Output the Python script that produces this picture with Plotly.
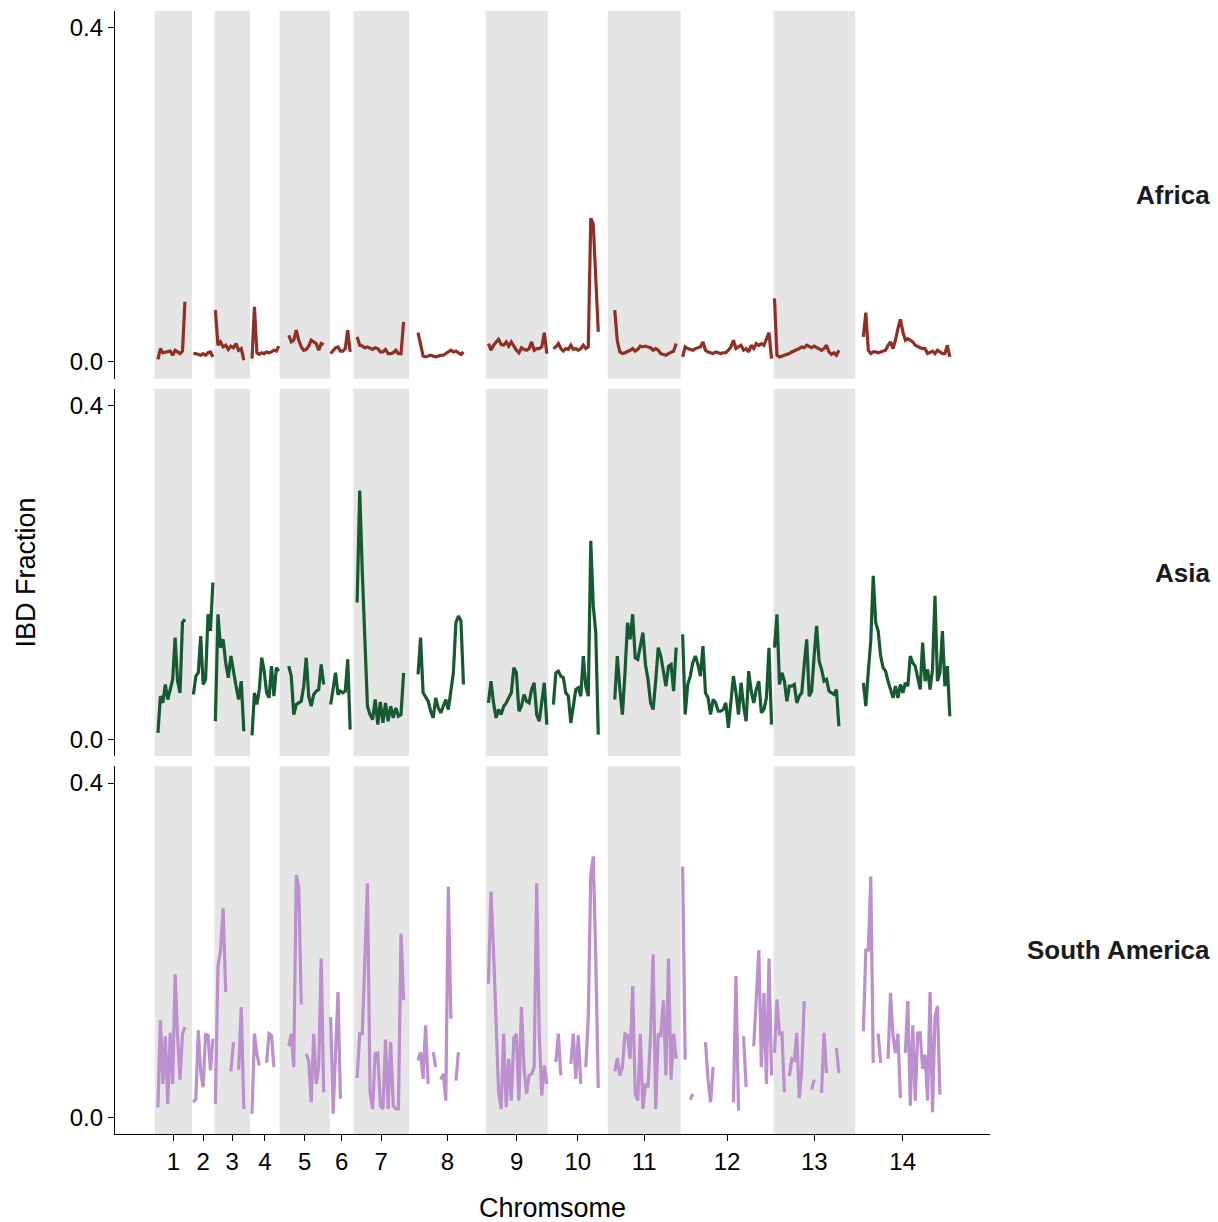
import numpy as np
import plotly.graph_objects as go
from plotly.subplots import make_subplots

# ---------------- data ----------------
CHROMOSOMES = [str(i) for i in range(1, 15)]
# chromosome lengths (Mb, cumulative genome axis)
CHROM_LENGTH_MB = [1.092, 0.651, 1.042, 0.864, 1.471, 0.689, 1.626,
                   2.239, 1.819, 1.752, 2.131, 2.715, 2.385, 2.782]
# first / last window position inside each chromosome (Mb)
WINDOW_FIRST_MB = [0.093, 0.038, 0.029, 0.058, 0.269, 0.023, 0.108,
                   0.263, 0.082, 0.161, 0.204, 0.058, 0.029, 0.242]
WINDOW_LAST_MB = [0.882, 0.607, 0.861, 0.841, 1.290, 0.593, 1.466,
                  1.591, 1.790, 1.474, 2.000, 2.657, 1.912, 2.770]

POPULATIONS = ["Africa", "Asia", "South America"]
LINE_COLORS = ["#912F25", "#165A32", "#BC8FCF"]

AFRICA = [
    [0.003, 0.016, 0.011, 0.012, 0.012, 0.013, 0.008, 0.014, 0.012, 0.010, 0.013, 0.072],
    [0.010, 0.010, 0.009, 0.008, 0.010, 0.008, 0.011, 0.012, 0.006],
    [0.062, 0.020, 0.024, 0.018, 0.020, 0.015, 0.019, 0.017, 0.022, 0.014, 0.016, 0.002],
    [0.004, 0.066, 0.011, 0.009, 0.011, 0.010, 0.012, 0.011, 0.012, 0.014, 0.013, 0.019],
    [0.032, 0.024, 0.026, 0.038, 0.026, 0.018, 0.014, 0.015, 0.019, 0.026, 0.024, 0.022,
     0.014, 0.022, 0.021],
    [0.010, 0.014, 0.017, 0.018, 0.013, 0.013, 0.016, 0.038, 0.012],
    [0.030, 0.020, 0.019, 0.017, 0.018, 0.016, 0.015, 0.017, 0.016, 0.012, 0.012, 0.015,
     0.010, 0.010, 0.011, 0.014, 0.010, 0.010, 0.048],
    [0.035, 0.020, 0.007, 0.006, 0.007, 0.008, 0.007, 0.006, 0.007, 0.008, 0.008, 0.010,
     0.011, 0.014, 0.012, 0.013, 0.011, 0.009, 0.012],
    [0.022, 0.014, 0.020, 0.024, 0.027, 0.021, 0.020, 0.024, 0.019, 0.024, 0.018, 0.014,
     0.011, 0.017, 0.015, 0.014, 0.016, 0.024, 0.014, 0.016, 0.016, 0.018, 0.035, 0.010],
    [0.016, 0.018, 0.022, 0.016, 0.013, 0.016, 0.015, 0.020, 0.015, 0.016, 0.014, 0.016,
     0.020, 0.016, 0.018, 0.172, 0.165, 0.102, 0.036],
    [0.062, 0.025, 0.012, 0.010, 0.011, 0.012, 0.014, 0.016, 0.013, 0.015, 0.019, 0.018,
     0.019, 0.018, 0.017, 0.014, 0.016, 0.014, 0.010, 0.009, 0.008, 0.010, 0.011, 0.013,
     0.022],
    [0.006, 0.018, 0.016, 0.015, 0.014, 0.016, 0.017, 0.018, 0.024, 0.014, 0.012, 0.011,
     0.010, 0.012, 0.011, 0.010, 0.011, 0.011, 0.014, 0.018, 0.026, 0.016, 0.018, 0.020,
     0.014, 0.016, 0.012, 0.020, 0.016, 0.022, 0.020, 0.022, 0.020, 0.028, 0.035, 0.004],
    [0.076, 0.008, 0.006, 0.007, 0.008, 0.008, 0.010, 0.012, 0.013, 0.015, 0.016, 0.018,
     0.017, 0.020, 0.018, 0.017, 0.019, 0.017, 0.015, 0.014, 0.016, 0.020, 0.012, 0.009,
     0.011, 0.008, 0.014],
    [0.030, 0.059, 0.014, 0.010, 0.012, 0.012, 0.011, 0.012, 0.014, 0.014, 0.020, 0.024,
     0.016, 0.026, 0.040, 0.051, 0.036, 0.026, 0.028, 0.026, 0.024, 0.020, 0.018, 0.017,
     0.016, 0.016, 0.010, 0.012, 0.013, 0.010, 0.014, 0.012, 0.010, 0.010, 0.020, 0.006],
]

ASIA = [
    [0.008, 0.052, 0.044, 0.066, 0.048, 0.062, 0.072, 0.122, 0.070, 0.056, 0.140, 0.144],
    [0.054, 0.076, 0.080, 0.124, 0.066, 0.072, 0.150, 0.130, 0.188],
    [0.022, 0.150, 0.110, 0.120, 0.092, 0.074, 0.100, 0.080, 0.064, 0.048, 0.070, 0.010],
    [0.005, 0.056, 0.042, 0.060, 0.098, 0.082, 0.056, 0.050, 0.088, 0.052, 0.086, 0.082],
    [0.088, 0.076, 0.030, 0.042, 0.044, 0.046, 0.064, 0.098, 0.052, 0.040, 0.054, 0.058,
     0.060, 0.090, 0.066],
    [0.042, 0.060, 0.080, 0.054, 0.058, 0.056, 0.058, 0.096, 0.012],
    [0.164, 0.298, 0.200, 0.126, 0.040, 0.030, 0.024, 0.048, 0.018, 0.045, 0.020, 0.044,
     0.022, 0.040, 0.026, 0.038, 0.028, 0.030, 0.080],
    [0.078, 0.122, 0.056, 0.050, 0.046, 0.034, 0.026, 0.050, 0.038, 0.032, 0.040, 0.048,
     0.036, 0.058, 0.080, 0.140, 0.148, 0.142, 0.066],
    [0.044, 0.070, 0.044, 0.026, 0.036, 0.030, 0.040, 0.044, 0.050, 0.056, 0.086, 0.080,
     0.034, 0.040, 0.054, 0.046, 0.044, 0.060, 0.068, 0.030, 0.022, 0.044, 0.068, 0.018],
    [0.042, 0.080, 0.082, 0.076, 0.074, 0.056, 0.052, 0.020, 0.040, 0.060, 0.062, 0.052,
     0.100, 0.064, 0.052, 0.238, 0.160, 0.128, 0.006],
    [0.048, 0.100, 0.060, 0.030, 0.080, 0.140, 0.120, 0.150, 0.098, 0.096, 0.112, 0.128,
     0.090, 0.072, 0.044, 0.036, 0.070, 0.110, 0.100, 0.080, 0.064, 0.088, 0.090, 0.058,
     0.110],
    [0.126, 0.030, 0.066, 0.076, 0.092, 0.100, 0.090, 0.076, 0.112, 0.056, 0.050, 0.030,
     0.048, 0.044, 0.034, 0.034, 0.036, 0.044, 0.014, 0.050, 0.076, 0.056, 0.030, 0.068,
     0.040, 0.022, 0.082, 0.058, 0.044, 0.060, 0.070, 0.032, 0.036, 0.050, 0.110, 0.018],
    [0.110, 0.150, 0.066, 0.080, 0.070, 0.046, 0.064, 0.064, 0.066, 0.044, 0.052, 0.056,
     0.090, 0.120, 0.052, 0.058, 0.100, 0.136, 0.094, 0.084, 0.070, 0.072, 0.058, 0.056,
     0.054, 0.060, 0.016],
    [0.068, 0.040, 0.082, 0.118, 0.196, 0.140, 0.130, 0.100, 0.086, 0.082, 0.070, 0.060,
     0.050, 0.064, 0.050, 0.066, 0.056, 0.068, 0.064, 0.100, 0.092, 0.088, 0.076, 0.060,
     0.116, 0.070, 0.084, 0.060, 0.084, 0.172, 0.070, 0.080, 0.130, 0.064, 0.088, 0.028],
]

SOUTH_AMERICA = [
    [0.012, 0.116, 0.040, 0.097, 0.016, 0.101, 0.040, 0.171, 0.097, 0.045, 0.100, 0.108],
    [0.018, 0.022, 0.104, 0.054, 0.036, 0.100, 0.098, 0.056, 0.094],
    [0.016, 0.180, 0.200, 0.250, 0.150, None, 0.055, 0.090, None, 0.057, 0.132, 0.010],
    [0.004, 0.100, 0.076, 0.062, None, None, 0.065, 0.100, 0.098, 0.060, None, None],
    [0.085, 0.100, 0.060, 0.290, 0.275, 0.135, None, 0.076, 0.067, 0.018, 0.100, 0.040,
     0.060, 0.190, 0.030],
    [0.120, 0.004, 0.076, 0.150, 0.022, None, None, None, None],
    [0.047, 0.100, 0.100, 0.200, 0.280, 0.030, 0.010, 0.076, 0.077, 0.014, 0.010, 0.093,
     0.010, 0.090, 0.014, 0.010, 0.010, 0.220, 0.140],
    [0.068, 0.078, 0.046, 0.110, 0.040, None, 0.078, 0.060, None, 0.045, 0.052, 0.020,
     0.276, 0.118, None, 0.044, 0.078, None, None],
    [0.160, 0.270, 0.200, 0.100, 0.030, 0.010, 0.100, 0.012, 0.070, 0.020, 0.095, 0.100,
     0.020, 0.132, 0.060, 0.028, 0.050, 0.052, 0.060, 0.280, 0.100, 0.026, 0.062, 0.040],
    [None, 0.066, 0.100, 0.050, None, None, None, 0.064, 0.100, 0.046, 0.098, 0.040,
     None, 0.060, 0.120, 0.290, 0.312, 0.190, 0.035],
    [0.055, 0.071, 0.050, 0.060, 0.100, 0.098, 0.070, 0.157, 0.028, 0.020, 0.100, 0.010,
     0.040, 0.036, 0.100, 0.195, 0.010, 0.100, 0.098, 0.140, 0.050, 0.190, 0.045, 0.100,
     0.070],
    [0.300, 0.069, None, 0.021, 0.028, None, None, None, None, 0.090, 0.045, 0.018,
     0.060, None, None, None, None, None, None, None, 0.018, 0.169, 0.008, None,
     0.097, 0.036, None, None, 0.085, 0.149, 0.200, 0.060, 0.149, 0.040, 0.190, 0.050],
    [0.077, 0.141, 0.100, 0.101, 0.030, None, 0.049, 0.070, 0.068, 0.101, 0.023, 0.057,
     0.139, None, None, 0.033, 0.045, None, None, 0.029, 0.101, 0.053, None, None,
     None, 0.083, 0.053],
    [0.103, 0.200, 0.200, 0.288, 0.065, None, 0.100, 0.065, None, None, 0.070, 0.149,
     0.097, 0.077, 0.100, 0.023, None, 0.077, 0.139, 0.014, 0.110, 0.020, 0.101, 0.101,
     0.058, 0.075, 0.020, 0.150, 0.006, 0.120, 0.133, 0.027, None, None, None, None],
]

Y_TICKS = [0.0, 0.4]
Y_TICK_TEXT = ["0.0", "0.4"]

# ---------------- build ----------------
offsets = np.concatenate([[0.0], np.cumsum(CHROM_LENGTH_MB)[:-1]])
genome_len = float(np.sum(CHROM_LENGTH_MB))
centers = [float(offsets[i] + CHROM_LENGTH_MB[i] / 2) for i in range(len(CHROMOSOMES))]


def build_xy(series):
    xs, ys = [], []
    for c, vals in enumerate(series):
        pos = np.linspace(WINDOW_FIRST_MB[c], WINDOW_LAST_MB[c], len(vals)) + offsets[c]
        xs.extend(pos.tolist())
        ys.extend(vals)
        xs.append(None)
        ys.append(None)
    return xs, ys


FONT = "Liberation Sans, Arial, Helvetica, sans-serif"
W, H = 1218, 1222
ML, MR, MT, MB = 115, 228, 11, 88
plot_h = H - MT - MB

fig = make_subplots(rows=3, cols=1, shared_xaxes=True,
                    vertical_spacing=10 / plot_h)

for r, (series, color) in enumerate(zip([AFRICA, ASIA, SOUTH_AMERICA], LINE_COLORS), start=1):
    xs, ys = build_xy(series)
    fig.add_trace(go.Scatter(x=xs, y=ys, mode="lines", connectgaps=False,
                             line=dict(color=color, width=3.2),
                             showlegend=False, hoverinfo="skip"),
                  row=r, col=1)

for i in range(0, len(CHROMOSOMES), 2):
    fig.add_vrect(x0=float(offsets[i]), x1=float(offsets[i] + CHROM_LENGTH_MB[i]),
                  fillcolor="#E5E5E5", line_width=0, layer="below",
                  row="all", col=1)

xr = [-0.05 * genome_len, 1.05 * genome_len]
for r in range(1, 4):
    fig.update_yaxes(range=[-0.02, 0.42], tickvals=Y_TICKS, ticktext=Y_TICK_TEXT,
                     ticks="outside", ticklen=6, tickwidth=1.2, tickcolor="black",
                     showline=True, linecolor="black", linewidth=1.3,
                     showgrid=False, zeroline=False,
                     tickfont=dict(family=FONT, size=24, color="black"),
                     row=r, col=1)
    fig.update_xaxes(range=xr, showgrid=False, zeroline=False,
                     showline=(r == 3), linecolor="black", linewidth=1.3,
                     ticks="outside" if r == 3 else "", ticklen=6, tickwidth=1.2,
                     tickcolor="black",
                     tickvals=centers, ticktext=CHROMOSOMES,
                     showticklabels=(r == 3),
                     tickfont=dict(family=FONT, size=24, color="black"),
                     row=r, col=1)

# facet strip labels (right side)
strip_y = [(MT + plot_h - 195) / plot_h, (MT + plot_h - 573) / plot_h,
           (MT + plot_h - 950) / plot_h]
for name, yy in zip(POPULATIONS, strip_y):
    fig.add_annotation(text="<b>%s</b>" % name, xref="paper", yref="paper",
                       x=(1212 - ML) / (W - ML - MR), y=yy,
                       xanchor="right", yanchor="middle", showarrow=False,
                       font=dict(family=FONT, size=26, color="#1a1a1a"))

fig.add_annotation(text="Chromsome", xref="paper", yref="paper",
                   x=0.5, y=(MT + plot_h - 1208) / plot_h,
                   xanchor="center", yanchor="middle", showarrow=False,
                   font=dict(family=FONT, size=27, color="black"))
fig.add_annotation(text="IBD Fraction", xref="paper", yref="paper",
                   x=(25 - ML) / (W - ML - MR), y=0.5, textangle=-90,
                   xanchor="center", yanchor="middle", showarrow=False,
                   font=dict(family=FONT, size=27, color="black"))

fig.update_layout(width=W, height=H,
                  margin=dict(l=ML, r=MR, t=MT, b=MB, autoexpand=False),
                  paper_bgcolor="white", plot_bgcolor="white",
                  font=dict(family=FONT))

fig.write_html("out.html")
